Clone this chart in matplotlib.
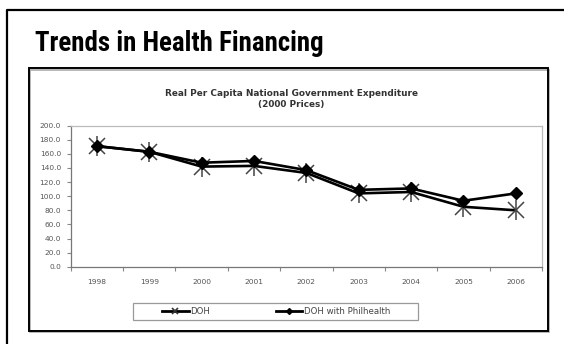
import numpy as np
import matplotlib
matplotlib.use('Agg')
import matplotlib.pyplot as plt
from matplotlib.lines import Line2D
from matplotlib.patches import Rectangle
from matplotlib import font_manager

# data (pesos, 2000 prices)
years = ['1998', '1999', '2000', '2001', '2002', '2003', '2004', '2005', '2006']
doh = [171.0, 163.0, 142.0, 143.0, 133.0, 104.0, 106.0, 85.0, 80.0]
doh_phil = [171.0, 163.0, 147.5, 150.0, 137.0, 109.0, 111.0, 93.5, 104.0]
yticks = [0, 20, 40, 60, 80, 100, 120, 140, 160, 180, 200]

W, H = 564., 344.

def fx(px):
    return px / W

def fy(py):
    return 1. - py / H

# pick a narrow bold face for the heading if one is around
def narrow_bold():
    fl = font_manager.fontManager.ttflist
    for nm in ['Roboto Condensed', 'Liberation Sans Narrow', 'Open Sans Condensed']:
        for f in fl:
            if f.name == nm and f.weight in (700, 'bold'):
                return font_manager.FontProperties(fname=f.fname), nm
    for f in fl:
        if f.name == 'DejaVu Sans' and 'condensed' in str(f.stretch) and f.weight in (700, 'bold'):
            return font_manager.FontProperties(fname=f.fname), 'dvc'
    return font_manager.FontProperties(family='DejaVu Sans', weight='bold'), 'dv'

head_fp, head_kind = narrow_bold()
head_fp.set_size({'dv': 13.8}.get(head_kind, 19.4))

fig = plt.figure(figsize=(W / 100., H / 100.), dpi=100)
fig.patch.set_facecolor('white')

# outer panel frame (open at right / bottom)
fig.add_artist(Line2D([fx(7.3), fx(7.3), fx(566)], [fy(346), fy(10.3), fy(10.3)],
                      transform=fig.transFigure, color='black', lw=1.6))
fig.text(fx(35), fy(51), 'Trends in Health Financing', fontproperties=head_fp,
         color='black', va='baseline')

# inner chart box with light shadow
fig.add_artist(Rectangle((fx(30.3), fy(331.7)), fx(519), (329.7 - 68.3) / H,
                         transform=fig.transFigure, fill=False, ec='#aaaaaa', lw=1.2))
fig.add_artist(Rectangle((fx(29.3), fy(330.7)), fx(519), (330.7 - 68.3) / H,
                         transform=fig.transFigure, fill=False, ec='black', lw=1.4))

fig.text(0.517, fy(93), 'Real Per Capita National Government Expenditure',
         ha='center', va='center', fontsize=6.4, fontweight='bold', color='#333333')
fig.text(0.517, fy(104), '(2000 Prices)', ha='center', va='center',
         fontsize=6.4, fontweight='bold', color='#333333')

ax = fig.add_axes([fx(70.7), fy(266.7), fx(542 - 70.7), (266.7 - 125.7) / H])
x = np.arange(len(years))

ax.plot(x, doh, color='black', lw=1.9, zorder=3)
ax.plot(x, doh, ls='none', marker='x', ms=12, mew=1.1, mec='#444444', zorder=4)
ax.plot(x, doh, ls='none', marker='|', ms=15, mew=1.1, mec='#444444', zorder=4)
ax.plot(x, doh_phil, color='black', lw=1.9, marker='D', ms=6.3, mfc='black',
        mec='black', zorder=5)

ax.set_xlim(-0.5, len(years) - 0.5)
ax.set_ylim(0, 200)
ax.set_yticks(yticks)
ax.set_yticklabels(['%.1f' % v for v in yticks])
ax.set_xticks(x)
ax.set_xticklabels(years)
ax.set_xticks(np.arange(len(years) + 1) - 0.5, minor=True)
ax.tick_params(axis='x', which='major', length=0, pad=9, labelsize=5.4, labelcolor='#555555')
ax.tick_params(axis='x', which='minor', length=3, color='#888888', width=0.8)
ax.tick_params(axis='y', length=3, color='#888888', width=0.8, pad=4,
               labelsize=5.3, labelcolor='#555555')
for s in ['top', 'right']:
    ax.spines[s].set_color('#bbbbbb')
for s in ['left', 'bottom']:
    ax.spines[s].set_color('#777777')
for s in ax.spines.values():
    s.set_linewidth(0.9)

# legend: entries placed on their own, box drawn separately
fig.add_artist(Rectangle((fx(132.7), fy(320)), fx(418 - 132.7), (320 - 302.7) / H,
                         transform=fig.transFigure, fill=False, ec='#999999', lw=0.9))
handles = [
    Line2D([], [], color='black', lw=2.0, marker='x', ms=4, mew=1.2, mec='#333333'),
    Line2D([], [], color='black', lw=2.0, marker='D', ms=3, mfc='black', mec='black'),
]
leg = fig.legend(handles, ['DOH', 'DOH with Philhealth'], loc='center left',
                 bbox_to_anchor=(fx(162), fy(311.3)), ncol=2, fontsize=6.2,
                 frameon=False, handlelength=3.1, handletextpad=0.2,
                 borderaxespad=0., borderpad=0., columnspacing=7.6)
for t in leg.get_texts():
    t.set_color('#444444')

fig.savefig('out.png', dpi=100, facecolor='white')
